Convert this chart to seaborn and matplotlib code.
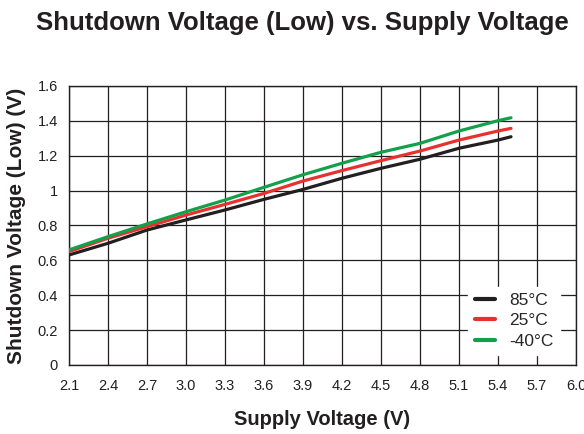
import matplotlib
matplotlib.use('Agg')
import matplotlib.pyplot as plt
import seaborn as sns
import pandas as pd
import numpy as np

# supply voltage sample points (V)
supply_v = [2.1, 2.4, 2.7, 3.0, 3.3, 3.6, 3.9, 4.2, 4.5, 4.8, 5.1, 5.4, 5.5]

# shutdown voltage (low) per temperature
v_85c = [0.631, 0.698, 0.774, 0.832, 0.889, 0.950, 1.007, 1.071, 1.128, 1.180,
         1.243, 1.290, 1.309]
v_25c = [0.650, 0.727, 0.793, 0.860, 0.921, 0.984, 1.055, 1.115, 1.172, 1.227,
         1.290, 1.342, 1.357]
v_m40c = [0.660, 0.736, 0.809, 0.879, 0.946, 1.019, 1.091, 1.157, 1.220, 1.271,
          1.342, 1.401, 1.418]

temps = ['85°C', '25°C', '-40°C']
x_ticks = [2.1, 2.4, 2.7, 3.0, 3.3, 3.6, 3.9, 4.2, 4.5, 4.8, 5.1, 5.4, 5.7, 6.0]
y_ticks = [0, 0.2, 0.4, 0.6, 0.8, 1, 1.2, 1.4, 1.6]
y_tick_labels = ['0', '0.2', '0.4', '0.6', '0.8', '1', '1.2', '1.4', '1.6']

df = pd.DataFrame({
    'supply': supply_v * 3,
    'shutdown': v_85c + v_25c + v_m40c,
    'temp': [temps[0]] * len(supply_v) + [temps[1]] * len(supply_v)
            + [temps[2]] * len(supply_v),
})

sns.set_style('white')
plt.rcParams['font.family'] = ['Liberation Sans', 'DejaVu Sans']

palette = {'85°C': '#231f20', '25°C': '#e8312f', '-40°C': '#12a04b'}

fig = plt.figure(figsize=(5.84, 4.34), dpi=100)
ax = fig.add_axes([69 / 584, 1 - 365 / 434, (576 - 69) / 584, (365 - 86) / 434])

sns.lineplot(data=df, x='supply', y='shutdown', hue='temp', hue_order=temps,
             palette=palette, linewidth=2.3, ax=ax, zorder=3)

ax.set_xlim(2.1, 6.0)
ax.set_ylim(0, 1.6)
ax.set_xticks(x_ticks)
ax.set_xticklabels(['%.1f' % t for t in x_ticks])
ax.set_yticks(y_ticks)
ax.set_yticklabels(y_tick_labels)
ax.grid(True, color='#231f20', linewidth=0.9)
ax.set_axisbelow(True)
for s in ax.spines.values():
    s.set_color('#231f20')
    s.set_linewidth(1.0)
ax.tick_params(axis='x', length=0, pad=10, labelsize=10.5, colors='#231f20')
ax.tick_params(axis='y', length=0, pad=8, labelsize=10.5, colors='#231f20')

ax.set_xlabel('Supply Voltage (V)', fontsize=14.5, fontweight='bold', labelpad=12,
              color='#231f20')
ax.set_ylabel('Shutdown Voltage (Low) (V)', fontsize=15, fontweight='bold',
              labelpad=8, color='#231f20')

leg = ax.legend(loc='lower right', bbox_to_anchor=(0.985, 0.005), fontsize=12.5,
                frameon=True, handlelength=1.2, handletextpad=0.8,
                labelspacing=0.3, borderpad=0.35)
leg.get_frame().set_facecolor('white')
leg.get_frame().set_edgecolor('white')
leg.get_frame().set_alpha(1)
leg.get_frame().set_boxstyle('square', pad=0)
for line in leg.get_lines():
    line.set_linewidth(3)

fig.text(0.517, 0.947, 'Shutdown Voltage (Low) vs. Supply Voltage', ha='center',
         va='center', fontsize=18.5, fontweight='bold', color='#231f20')

fig.savefig('out.png', dpi=100)
